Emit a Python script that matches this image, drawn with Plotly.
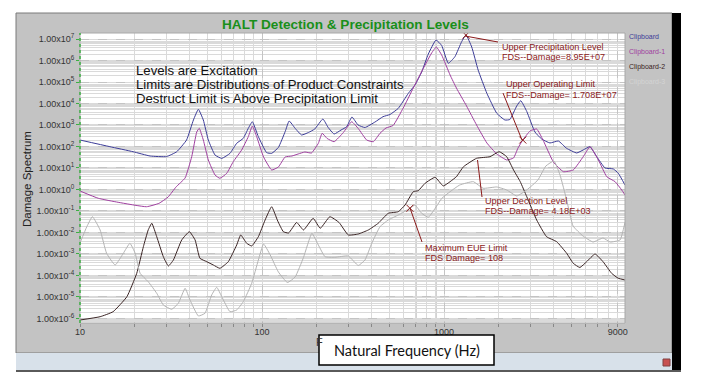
import plotly.graph_objects as go

# ---------------- data ----------------
freq_clip = [10, 14.6, 19.6, 24.3, 29.9, 34.0, 38.5, 42.0, 44.7, 47.6, 50.7, 55.2, 60.1, 66.7, 72.6, 78.9,
             84.1, 88.5, 95.5, 106, 113, 123, 134, 141, 152, 165, 180, 195, 216, 231, 249, 272, 292, 312,
             337, 368, 418, 462, 505, 561, 637, 693, 754, 820, 904, 971, 1056, 1148, 1250, 1320, 1420,
             1540, 1720, 1950, 2160, 2300, 2510, 2640, 2850, 3160, 3440, 3820, 4250, 4720, 5360, 5820,
             6340, 6900, 7670, 8520, 9070, 9880]
dmg_clip = [200, 98, 57, 36, 34, 57, 200, 1710, 5370, 1710, 200, 40, 28, 48, 141, 240,
            703, 1420, 286, 52, 48, 90, 488, 1530, 703, 343, 448, 652, 1900, 766, 381, 585, 834, 2360,
            1000, 766, 1380, 2430, 3080, 5980, 2.98e4, 7.25e4, 2.92e5, 2.0e6, 8.98e6, 4.99e6, 7.41e5, 1.5e6,
            7.48e6, 1.53e7, 4.25e6, 3.61e5, 2.98e4, 3500, 1710, 1800, 7660, 1.35e4, 4250, 472, 223, 146,
            180, 82, 50, 69, 98, 34, 10, 9.0, 5.7, 1.6]

freq_clip1 = [10, 12.6, 16.2, 23.2, 27.2, 30.5, 33.7, 37.8, 41.1, 43.8, 45.2, 47.6, 50.7, 55.2, 58.7, 64.0,
              69.5, 77.3, 84.1, 88.5, 93.5, 102, 113, 123, 134, 146, 158, 172, 187, 204, 214, 228, 249,
              280, 311, 338, 376, 409, 445, 480, 525, 597, 678, 769, 855, 907, 971, 1080, 1170, 1330,
              1510, 1720, 1950, 2210, 2410, 2550, 2710, 2970, 3230, 3500, 3990, 4530, 5130, 5820, 6340,
              7050, 7840, 8710, 9470, 9880]
dmg_clip1 = [0.85, 0.39, 0.254, 0.158, 0.228, 0.448, 1.31, 3.43, 33.6, 472, 703, 200, 23.6, 4.72, 3.32, 5.66,
             19.6, 68.7, 286, 898, 286, 32.5, 8.07, 11.1, 32.5, 36.1, 44.8, 55.5, 49.9, 141, 411, 236, 167,
             448, 1420, 687, 200, 167, 411, 725, 948, 6180, 5.26e4, 4.25e5, 2.23e6, 4.25e6, 1.8e6, 2.12e5,
             5.26e4, 7660, 1000, 146, 44.8, 23.6, 29.2, 85, 200, 526, 652, 200, 19.0, 6.73, 8.07, 33.6, 98,
             23.6, 3.94, 2.31, 0.95, 0.555]

freq_clip2 = [10, 12.9, 15.2, 18.1, 20.5, 22.3, 23.7, 24.8, 26.4, 28.7, 30.6, 32.6, 36.2, 39.9, 42.9, 45.6,
              49.7, 54.0, 58.7, 65.3, 72.6, 76.4, 82.4, 87.8, 95.5, 104, 113, 122, 131, 140, 155, 169, 191,
              209, 236, 265, 298, 338, 384, 435, 494, 561, 611, 678, 722, 787, 893, 991, 1080, 1170, 1280,
              1510, 1790, 2010, 2210, 2410, 2620, 2850, 3230, 3660, 4160, 4720, 5130, 5580, 6080, 6760,
              7500, 8340, 9070, 9880]
dmg_clip2 = [8.5e-7, 1.21e-6, 2.07e-6, 1.03e-5, 1.26e-4, 2.19e-3, 1.31e-2, 2.68e-2, 6.38e-3, 7.48e-4, 2.77e-4,
             5.26e-4, 4.48e-3, 1.09e-2, 4.48e-3, 6.31e-4, 4.38e-4, 3.08e-4, 2.16e-4, 4.38e-4, 2.62e-3, 7.66e-3,
             3.15e-3, 2.36e-3, 6.38e-3, 3.81e-2, 0.158, 3.43e-2, 1.09e-2, 9.48e-3, 2.92e-2, 1.31e-2, 4.57e-2,
             1.57e-2, 5.43e-2, 2.92e-2, 7.66e-3, 8.51e-3, 1.31e-2, 2.68e-2, 7.82e-2, 9.27e-2, 0.19, 0.79, 0.88,
             1.94, 3.69, 1.46, 2.31, 3.94, 11.5, 28.2, 33.6, 57.3, 33.6, 8.07, 2.36, 0.462, 3.81e-2, 6.38e-3,
             3.73e-3, 1.08e-3, 3.69e-4, 2.36e-4, 4.38e-4, 1.0e-3, 4.25e-4, 1.26e-4, 7.41e-5, 6.18e-5]

freq_clip3 = [10, 10.9, 11.7, 12.9, 14.0, 15.6, 17.3, 18.8, 20.1, 21.4, 23.7, 26.4, 28.7, 31.9, 34.7, 37.8,
              40.2, 44.7, 48.6, 52.9, 56.4, 60.1, 66.7, 72.6, 78.9, 87.8, 95.5, 102, 111, 123, 138, 152, 169,
              188, 204, 222, 252, 298, 338, 368, 401, 445, 494, 561, 650, 693, 754, 820, 912, 971, 1080,
              1220, 1450, 1640, 1950, 2210, 2510, 2850, 3280, 3630, 4020, 4340, 4720, 5120, 5800, 6590,
              7480, 8170, 9270, 9880]
dmg_clip3 = [3.25e-3, 1.86e-2, 5.43e-2, 1.31e-2, 1.08e-3, 3.08e-4, 1.08e-3, 3.15e-3, 1.08e-3, 1.26e-4, 5.15e-5,
             1.49e-5, 4.25e-6, 2.68e-6, 5.09e-6, 2.54e-5, 7.24e-6, 1.31e-6, 1.75e-6, 1.24e-5, 2.82e-5, 1.03e-5,
             2.07e-6, 2.48e-6, 6.04e-6, 4.34e-5, 5.26e-4, 2.92e-3, 8.98e-4, 1.46e-4, 4.72e-5, 8.51e-5, 6.87e-4,
             9.18e-3, 2.62e-3, 7.48e-4, 7.03e-4, 8.07e-4, 2.92e-4, 5.26e-4, 3.15e-3, 1.86e-2, 3.81e-2, 6.52e-2,
             0.134, 0.19, 7.82e-2, 5.09e-2, 0.171, 0.381, 0.79, 1.62, 2.31, 1.14, 1.31, 0.95, 0.50, 0.95, 2.77,
             12.4, 21.2, 4.72, 0.325, 2.0e-2, 6.87e-3, 3.61e-3, 5.55e-3, 3.61e-3, 4.48e-3, 3.0e-2]

series_names = ["Clipboard", "Clipboard-1", "Clipboard-2", "Clipboard-3"]
series_colors = ["#3c3c98", "#a040a0", "#3a2424", "#b4b4b4"]

limit_freq = [1320, 2710, 650]
limit_dmg = [1.5e7, 200, 0.134]

x_tickvals = [10, 100, 1000, 9000]
x_ticktext = ["10", "100", "1000", "9000"]
y_exponents = list(range(-6, 8))

# ---------------- layout helpers (pixel -> paper) ----------------
W, H = 710, 387
L, R, T, B = 80, 625, 33, 323


def fx(px):
    return (px - L) / (R - L)


def fy(py):
    return (B - py) / (B - T)


FONT = "Liberation Sans, Arial, sans-serif"
RED = "#8b1a1a"

fig = go.Figure()
for f, d, c, n in zip([freq_clip, freq_clip1, freq_clip2, freq_clip3],
                      [dmg_clip, dmg_clip1, dmg_clip2, dmg_clip3],
                      series_colors, series_names):
    fig.add_trace(go.Scatter(x=f, y=d, mode="lines", name=n,
                             line=dict(color=c, width=1, shape="spline", smoothing=0.4)))

fig.add_trace(go.Scatter(x=limit_freq, y=limit_dmg, mode="markers", showlegend=False,
                         marker=dict(symbol="x-thin", size=7, line=dict(color=RED, width=1))))

shapes = [
    # window frame
    dict(type="rect", xref="paper", yref="paper", x0=fx(16), x1=fx(672), y0=fy(353), y1=fy(13),
         fillcolor="#c3c3c3", line=dict(color="#7a7a7a", width=1), layer="below"),
    dict(type="rect", xref="paper", yref="paper", x0=fx(16), x1=fx(672), y0=fy(370), y1=fy(353),
         fillcolor="#d8e1ea", line=dict(width=0), layer="below"),
    dict(type="rect", xref="paper", yref="paper", x0=fx(672), x1=fx(681), y0=fy(372), y1=fy(13),
         fillcolor="#000000", line=dict(width=0), layer="below"),
    dict(type="rect", xref="paper", yref="paper", x0=fx(16), x1=fx(681), y0=fy(372), y1=fy(370),
         fillcolor="#5a5a5a", line=dict(width=0), layer="below"),
    dict(type="rect", xref="paper", yref="paper", x0=fx(663), x1=fx(670), y0=fy(366), y1=fy(359),
         fillcolor="#c85050", line=dict(color="#804040", width=1), layer="below"),
    # plot area
    dict(type="rect", xref="paper", yref="paper", x0=0, x1=1, y0=0, y1=1,
         fillcolor="#ffffff", line=dict(width=0), layer="below"),
    dict(type="rect", xref="paper", yref="paper", x0=0, x1=1, y0=0, y1=1,
         line=dict(color="#a8a8a8", width=1), layer="above"),
    # cursor lines
    dict(type="line", xref="paper", yref="paper", x0=fx(416), x1=fx(416), y0=0, y1=1,
         line=dict(color="#a8a8a8", width=1), layer="below"),
    dict(type="line", xref="paper", yref="paper", x0=fx(436), x1=fx(436), y0=0, y1=1,
         line=dict(color="#a8a8a8", width=1), layer="below"),
    # green dotted y axis line
    dict(type="line", xref="paper", yref="paper", x0=0, x1=0, y0=0, y1=1,
         line=dict(color="#3cb043", width=1.5, dash="dot"), layer="above"),
    # leader lines
    dict(type="line", xref="paper", yref="paper", x0=fx(465), y0=fy(36), x1=fx(498), y1=fy(42),
         line=dict(color=RED, width=1)),
    dict(type="line", xref="paper", yref="paper", x0=fx(503), y0=fy(93), x1=fx(522), y1=fy(140),
         line=dict(color=RED, width=1)),
    dict(type="line", xref="paper", yref="paper", x0=fx(477.5), y0=fy(160), x1=fx(482), y1=fy(197),
         line=dict(color=RED, width=1)),
    dict(type="line", xref="paper", yref="paper", x0=fx(410), y0=fy(208), x1=fx(422), y1=fy(242),
         line=dict(color=RED, width=1)),
    # x title box
    dict(type="rect", xref="paper", yref="paper", x0=fx(319), x1=fx(494), y0=fy(365), y1=fy(335),
         fillcolor="#ffffff", line=dict(color="#000000", width=1.5), layer="above"),
]

ann = []


def txt(text, px, py, size, color, xanchor="left", bold=False, family=FONT, angle=0):
    ann.append(dict(text=("<b>%s</b>" % text) if bold else text, x=fx(px), y=fy(py),
                    xref="paper", yref="paper", xanchor=xanchor, yanchor="middle",
                    showarrow=False, textangle=angle,
                    font=dict(size=size, color=color, family=family)))


txt("HALT Detection &amp; Precipitation Levels", 345, 24, 13.6, "#1a8f1a", xanchor="center", bold=True)
txt("Levels are Excitation", 134, 70.5, 13.2, "#111111")
txt("Limits are Distributions of Product Constraints", 134, 84, 13.2, "#111111")
txt("Destruct Limit is Above Precipitation Limit", 134, 98, 13.2, "#111111")

txt("Upper Precipitation Level", 500, 46.5, 9.1, RED)
txt("FDS--Damage=8.95E+07", 500, 57, 9.1, RED)
txt("Upper Operating Limit", 504, 84, 9.1, RED)
txt("FDS--Damage= 1.708E+07", 504, 94.5, 9.1, RED)
txt("Upper Dection Level", 483, 200.5, 9.1, RED)
txt("FDS--Damage= 4.18E+03", 483, 211, 9.1, RED)
txt("Maximum EUE Limit", 423, 247.5, 9.1, RED)
txt("FDS Damage= 108", 423, 258, 9.1, RED)

for i, (n, c) in enumerate(zip(series_names, series_colors)):
    txt(n, 627, 37 + 15 * i, 7, c if i != 3 else "#d4d4d4")

txt("Damage Spectrum", 27, 179, 11.5, "#222222", xanchor="center", angle=-90)
txt("F", 314, 342, 11, "#333333")
txt("Natural Frequency (Hz)", 406.5, 350, 14.5, "#111111", xanchor="center", family="Lato, Open Sans, sans-serif")

fig.update_layout(
    width=W, height=H,
    margin=dict(l=L, r=W - R, t=T, b=H - B, pad=0),
    paper_bgcolor="#ffffff", plot_bgcolor="#ffffff",
    showlegend=False,
    shapes=shapes, annotations=ann,
    font=dict(family=FONT, size=9, color="#333333"),
)
fig.update_xaxes(type="log", range=[1, 3.9945], tickmode="array", tickvals=x_tickvals, ticktext=x_ticktext,
                 ticks="outside", ticklen=2, tickcolor="#888888", ticklabelstandoff=-2,
                 showline=False, zeroline=False,
                 showgrid=True, gridcolor="#c4c4c4", griddash="dash", gridwidth=1,
                 tickfont=dict(size=9, color="#333333"),
                 minor=dict(dtick="D1", ticks="outside", ticklen=3, tickcolor="#888888",
                            showgrid=True, gridcolor="#dadada", gridwidth=1, griddash="solid"))
fig.update_yaxes(type="log", range=[-6.21, 7.279], tickmode="array",
                 tickvals=[10.0 ** e for e in y_exponents],
                 ticktext=["1.00x10<sup>%d</sup>" % e for e in y_exponents],
                 ticks="outside", ticklen=3, tickcolor="#3cb043", showline=False, zeroline=False,
                 showgrid=True, gridcolor="#c4c4c4", griddash="dash", gridwidth=1,
                 tickfont=dict(size=9, color="#333333"),
                 minor=dict(dtick="D1", showgrid=True, gridcolor="#dadada", gridwidth=1, griddash="solid"))

fig.write_html("out.html", config={"displayModeBar": False},
               post_script="document.body.style.margin='0';document.body.style.overflow='hidden';")
